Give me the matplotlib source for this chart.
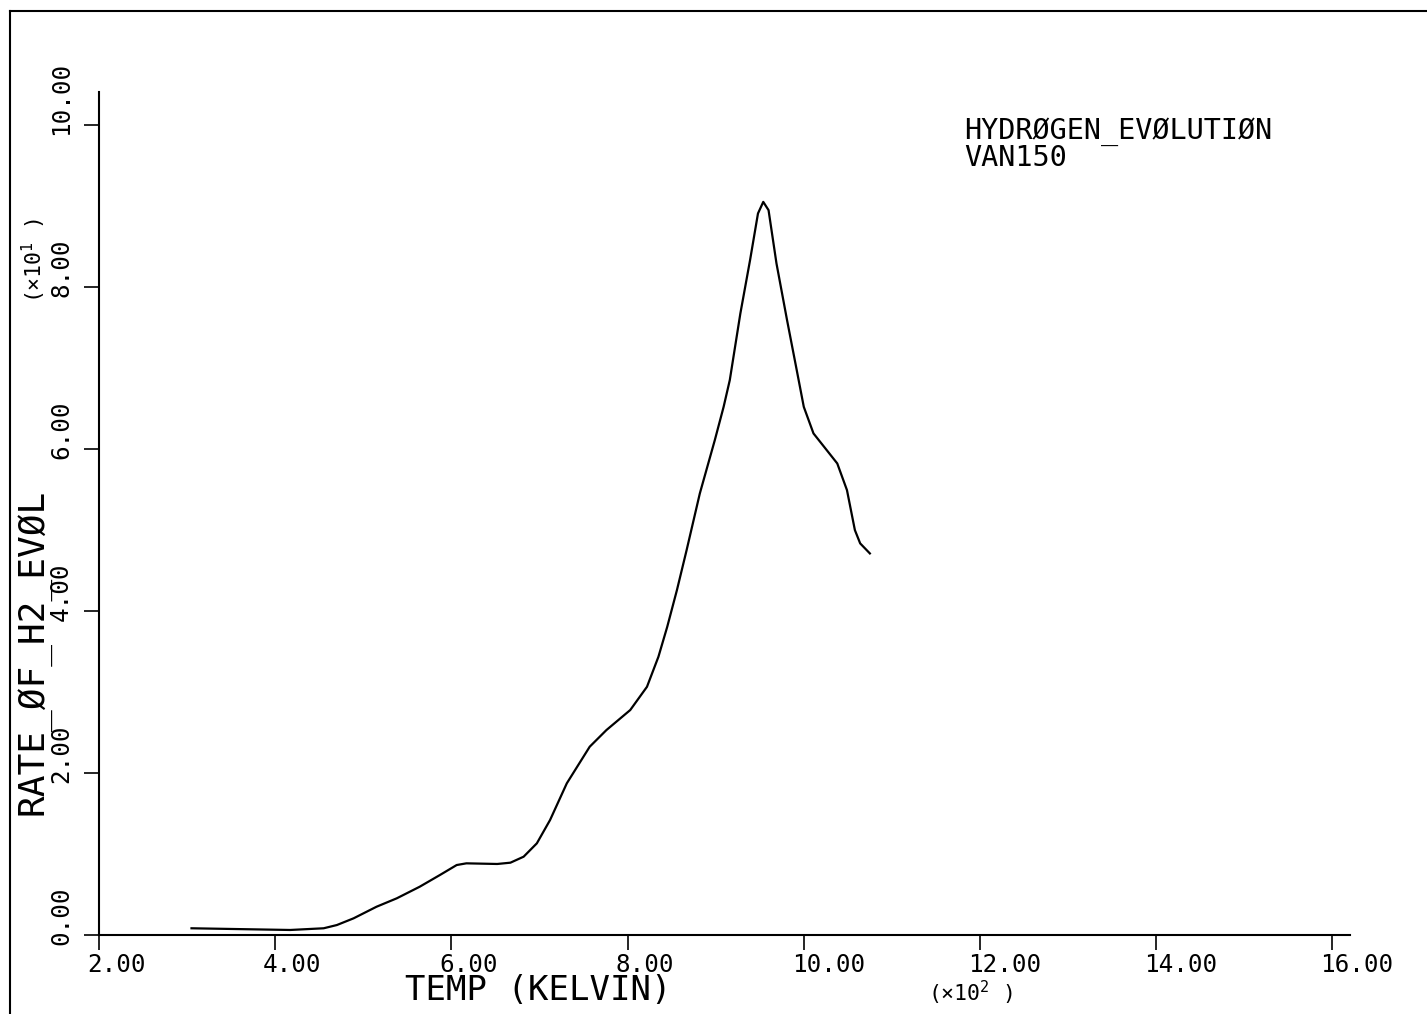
import matplotlib
matplotlib.use("Agg")
import matplotlib.pyplot as plt
from matplotlib.transforms import ScaledTranslation
from matplotlib.lines import Line2D

# ---- data (x in units of 10^2 K, y in units of 10^1) ----
temp = [3.05, 4.17, 4.55, 4.70, 4.89, 5.15, 5.38, 5.64, 5.87, 6.06, 6.17,
        6.52, 6.67, 6.82, 6.97, 7.12, 7.31, 7.57, 7.76, 8.03, 8.22, 8.35,
        8.45, 8.56, 8.67, 8.82, 8.99, 9.09, 9.16, 9.28, 9.39, 9.48, 9.54,
        9.60, 9.69, 9.81, 9.92, 10.00, 10.11, 10.26, 10.38, 10.49, 10.58,
        10.64, 10.75]
rate = [0.083, 0.062, 0.083, 0.123, 0.206, 0.349, 0.453, 0.596, 0.741, 0.864,
        0.885, 0.877, 0.893, 0.967, 1.132, 1.42, 1.873, 2.325, 2.531, 2.778,
        3.065, 3.436, 3.806, 4.259, 4.753, 5.453, 6.111, 6.522, 6.852, 7.675,
        8.333, 8.91, 9.053, 8.951, 8.293, 7.593, 6.975, 6.522, 6.194, 5.988,
        5.823, 5.494, 5.0, 4.836, 4.712]
x_ticks = [2, 4, 6, 8, 10, 12, 14, 16]
x_tick_labels = ["2.00", "4.00", "6.00", "8.00", "10.00", "12.00", "14.00", "16.00"]
y_ticks = [0, 2, 4, 6, 8, 10]
y_tick_labels = ["0.00", "2.00", "4.00", "6.00", "8.00", "10.00"]

FONT = "DejaVu Sans Mono"
plt.rcParams["mathtext.fontset"] = "custom"
plt.rcParams["mathtext.rm"] = FONT
plt.rcParams["mathtext.it"] = FONT
plt.rcParams["mathtext.default"] = "rm"

W, H = 1427, 1014
DPI = 100
fig = plt.figure(figsize=(W / DPI, H / DPI), dpi=DPI)
fig.patch.set_facecolor("white")

ax = fig.add_axes([99 / W, (H - 935) / H, (1350 - 99) / W, (935 - 92) / H])
ax.set_xlim(2, 16.2)
ax.set_ylim(0, 10.41)
for s in ("top", "right"):
    ax.spines[s].set_visible(False)
for s in ("left", "bottom"):
    ax.spines[s].set_linewidth(1.5)
ax.patch.set_visible(False)

ax.set_xticks(x_ticks)
ax.set_yticks(y_ticks)
ax.tick_params(axis="both", direction="out", length=11, width=1.2,
               labelbottom=False, labelleft=False)

ax.plot(temp, rate, color="black", linewidth=1.6, solid_joinstyle="round")

def off(dx, dy):
    return ax.transData + ScaledTranslation(dx / DPI, dy / DPI, fig.dpi_scale_trans)

for t, lab in zip(x_ticks, x_tick_labels):
    ax.text(t, 0, lab, transform=off(-12, -37), ha="left", va="baseline",
            fontsize=17.5, family=FONT, clip_on=False)
for t, lab in zip(y_ticks, y_tick_labels):
    ax.text(2, t, lab, transform=off(-31, -10), ha="left", va="baseline",
            rotation=90, rotation_mode="anchor", fontsize=17.5, family=FONT,
            clip_on=False)

# axis titles
fig.text(405 / W, 1 - 1000 / H, "TEMP (KELVIN)", ha="left", va="baseline",
         fontsize=24.5, family=FONT)
fig.text(42 / W, 1 - 815 / H, "RATE_ØF_H2_EVØL", ha="left", va="baseline",
         rotation=90, rotation_mode="anchor", fontsize=26, family=FONT)
fig.text(928 / W, 1 - 1001 / H, r"(×10$^{2}$ )", ha="left", va="baseline",
         fontsize=15.5, family=FONT)
fig.text(42 / W, 1 - 303 / H, r"(×10$^{1}$ )", ha="left", va="baseline",
         rotation=90, rotation_mode="anchor", fontsize=15.5, family=FONT)

# annotation
fig.text(964 / W, 1 - 139 / H, "HYDRØGEN_EVØLUTIØN", ha="left", va="baseline",
         fontsize=20.5, family=FONT)
fig.text(964 / W, 1 - 166 / H, "VAN150", ha="left", va="baseline",
         fontsize=20.5, family=FONT)

# page frame (left and top edges)
fx = 9.5 / W
fy = 1 - 11 / H
fig.add_artist(Line2D([fx, fx], [0, fy], transform=fig.transFigure,
                      color="black", linewidth=1.5))
fig.add_artist(Line2D([fx, 1], [fy, fy], transform=fig.transFigure,
                      color="black", linewidth=1.5))

fig.savefig("out.png", dpi=DPI, facecolor="white")
